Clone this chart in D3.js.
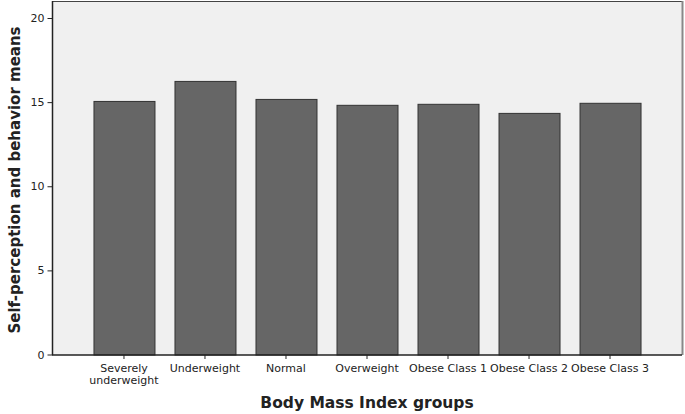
<!doctype html>
<html>
<head>
<style>
  body { margin: 0; background: #fff; font-family: "DejaVu Sans", sans-serif; }
  .tick text { fill: #222; font-size: 11px; }
</style>
<script src="https://d3js.org/d3.v7.min.js"></script>
</head>
<body>
<div id="chart"></div>
<script>
var groups = [["Severely", "underweight"], ["Underweight"], ["Normal"], ["Overweight"],
              ["Obese Class 1"], ["Obese Class 2"], ["Obese Class 3"]];
var means = [15.07, 16.26, 15.19, 14.84, 14.9, 14.36, 14.96];
var yTicks = [0, 5, 10, 15, 20];

var W = 685, H = 414;
var margin = {top: 1, right: 3, bottom: 59, left: 52};

var svg = d3.select("#chart").append("svg")
  .attr("width", W).attr("height", H);

var keys = groups.map(function(g) { return g.join(" "); });

var x = d3.scaleBand()
  .domain(keys)
  .range([margin.left, W - margin.right])
  .paddingInner(0.247)
  .paddingOuter(0.512);

var y = d3.scaleLinear()
  .domain([0, 20])
  .range([H - margin.bottom - 0.5, 18]);

// plot background
svg.append("rect")
  .attr("x", margin.left).attr("y", margin.top)
  .attr("width", W - margin.right - margin.left)
  .attr("height", H - margin.bottom - margin.top)
  .attr("fill", "#f0f0f0");

// top and right frame
svg.append("line")
  .attr("x1", margin.left).attr("x2", W - margin.right)
  .attr("y1", margin.top + 0.5).attr("y2", margin.top + 0.5)
  .attr("stroke", "#444");
svg.append("line")
  .attr("x1", W - margin.right + 0.5).attr("x2", W - margin.right + 0.5)
  .attr("y1", margin.top).attr("y2", H - margin.bottom)
  .attr("stroke", "#888").attr("stroke-width", 2);

// bars
svg.selectAll(".bar")
  .data(means)
  .enter().append("rect")
    .attr("class", "bar")
    .attr("x", function(d, i) { return x(keys[i]) + 0.5; })
    .attr("y", function(d) { return y(d) + 0.5; })
    .attr("width", x.bandwidth())
    .attr("height", function(d) { return y(0) - y(d); })
    .attr("fill", "#666")
    .attr("stroke", "#333")
    .attr("stroke-width", 1);

// y axis
var yAxis = svg.append("g")
  .attr("transform", "translate(" + (margin.left + 0.5) + ",0)")
  .call(d3.axisLeft(y).tickValues(yTicks).tickSize(5).tickPadding(3).tickSizeOuter(0));
yAxis.select(".domain").attr("stroke", "#222").attr("stroke-width", 1.5)
  .attr("d", "M0," + margin.top + "V" + (H - margin.bottom));
yAxis.selectAll(".tick line").attr("stroke", "#222");
yAxis.selectAll("text").attr("font-family", "DejaVu Sans").attr("font-size", 11).attr("fill", "#222");

// x axis
var xAxis = svg.append("g")
  .attr("transform", "translate(0," + (H - margin.bottom) + ")")
  .call(d3.axisBottom(x).tickSize(4).tickSizeOuter(0).tickFormat(""));
xAxis.select(".domain").attr("stroke", "#222").attr("stroke-width", 1.5)
  .attr("d", "M" + margin.left + ",0H" + (W - margin.right));
xAxis.selectAll(".tick line").attr("stroke", "#222");
xAxis.selectAll(".tick").each(function(k, i) {
  var t = d3.select(this).append("text")
    .attr("fill", "#222").attr("font-size", 11)
    .attr("font-family", "DejaVu Sans")
    .attr("text-anchor", "middle")
    .attr("y", 17);
  groups[i].forEach(function(line, j) {
    t.append("tspan").attr("x", 0).attr("dy", j === 0 ? 0 : 12).text(line);
  });
});

// axis titles
svg.append("text")
  .attr("x", (margin.left + W - margin.right) / 2)
  .attr("y", 408)
  .attr("text-anchor", "middle")
  .attr("font-size", 15.5).attr("font-weight", "bold").attr("fill", "#222")
  .text("Body Mass Index groups");

svg.append("text")
  .attr("transform", "translate(20," + ((margin.top + H - margin.bottom) / 2 + 2) + ") rotate(-90)")
  .attr("text-anchor", "middle")
  .attr("font-size", 15).attr("font-weight", "bold").attr("fill", "#222")
  .text("Self-perception and behavior means");
</script>
</body>
</html>
